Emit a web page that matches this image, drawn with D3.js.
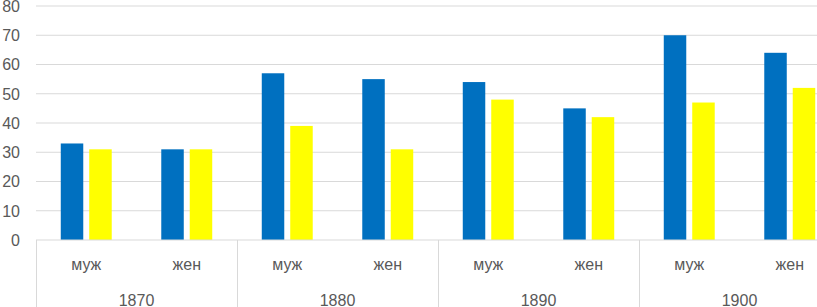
<!DOCTYPE html>
<html>
<head>
<meta charset="utf-8">
<script src="https://cdn.jsdelivr.net/npm/d3@7"></script>
<style>
  body { margin: 0; background: #fff; }
  text { font-family: "Liberation Sans", Arial, sans-serif; fill: #595959; }
</style>
</head>
<body>
<svg id="chart" width="817" height="307"></svg>
<script>
const years = ['1870', '1880', '1890', '1900'];
const sexes = ['муж', 'жен'];
const seriesNames = ['s1', 's2'];
const seriesColors = ['#0070C0', '#FFFF00'];
// values per (year, sex), in order муж then жен
const blueValues = [33, 31, 57, 55, 54, 45, 70, 64];
const yellowValues = [31, 31, 39, 31, 48, 42, 47, 52];
const yTicks = [0, 10, 20, 30, 40, 50, 60, 70, 80];

const svg = d3.select('#chart');
const margin = {top: 6, left: 36, bottom: 67};
const height = +svg.attr('height');
const innerHeight = height - margin.top - margin.bottom;
const innerWidth = 804; // plot runs past the right edge of the picture

const cells = [];
years.forEach((y, i) => sexes.forEach((s, j) => {
  const k = i * sexes.length + j;
  cells.push({key: y + '|' + s, year: y, sex: s, values: [blueValues[k], yellowValues[k]]});
}));

const g = svg.append('g').attr('transform', `translate(${margin.left}, ${margin.top})`);

const yScale = d3.scaleLinear().domain([0, 80]).range([innerHeight, 0]);
const x0 = d3.scaleBand().domain(cells.map(d => d.key)).range([0, innerWidth]);
const xYear = d3.scaleBand().domain(years).range([0, innerWidth]);
const x1 = d3.scaleBand().domain(seriesNames).range([0, x0.bandwidth()])
  .paddingInner(0.21).paddingOuter(0.87);

// gridlines
g.selectAll('.grid').data(yTicks.filter(t => t > 0)).enter().append('line')
  .attr('x1', 0).attr('x2', innerWidth)
  .attr('y1', d => yScale(d)).attr('y2', d => yScale(d))
  .attr('stroke', '#d9d9d9').attr('stroke-width', 1);

// y labels
svg.selectAll('.ylab').data(yTicks).enter().append('text')
  .attr('x', 20).attr('y', d => margin.top + yScale(d))
  .attr('dy', '0.36em').attr('text-anchor', 'end')
  .style('font-size', '16px').text(d => d);

// bars
const cellG = g.selectAll('.cell').data(cells).enter().append('g')
  .attr('transform', d => `translate(${x0(d.key)}, 0)`);
cellG.selectAll('rect').data(d => d.values.map((v, i) => ({name: seriesNames[i], value: v, color: seriesColors[i]})))
  .enter().append('rect')
  .attr('x', d => x1(d.name)).attr('width', x1.bandwidth())
  .attr('y', d => yScale(d.value)).attr('height', d => innerHeight - yScale(d.value))
  .attr('fill', d => d.color);

// x axis line and year separators
g.append('line').attr('x1', 0).attr('x2', innerWidth)
  .attr('y1', innerHeight).attr('y2', innerHeight)
  .attr('stroke', '#d9d9d9').attr('stroke-width', 1);
g.selectAll('.sep').data(years.concat(['end'])).enter().append('line')
  .attr('x1', (d, i) => Math.round(i * xYear.step()) + 0.5)
  .attr('x2', (d, i) => Math.round(i * xYear.step()) + 0.5)
  .attr('y1', innerHeight).attr('y2', height)
  .attr('stroke', '#d9d9d9').attr('stroke-width', 1);

// sex labels
g.selectAll('.sexlab').data(cells).enter().append('text')
  .attr('x', d => x0(d.key) + x0.bandwidth() / 2)
  .attr('y', innerHeight + 30)
  .attr('text-anchor', 'middle').style('font-size', '16px')
  .text(d => d.sex);

// year labels
g.selectAll('.yearlab').data(years).enter().append('text')
  .attr('x', d => xYear(d) + xYear.bandwidth() / 2)
  .attr('y', innerHeight + 66)
  .attr('text-anchor', 'middle').style('font-size', '16px')
  .text(d => d);
</script>
</body>
</html>
